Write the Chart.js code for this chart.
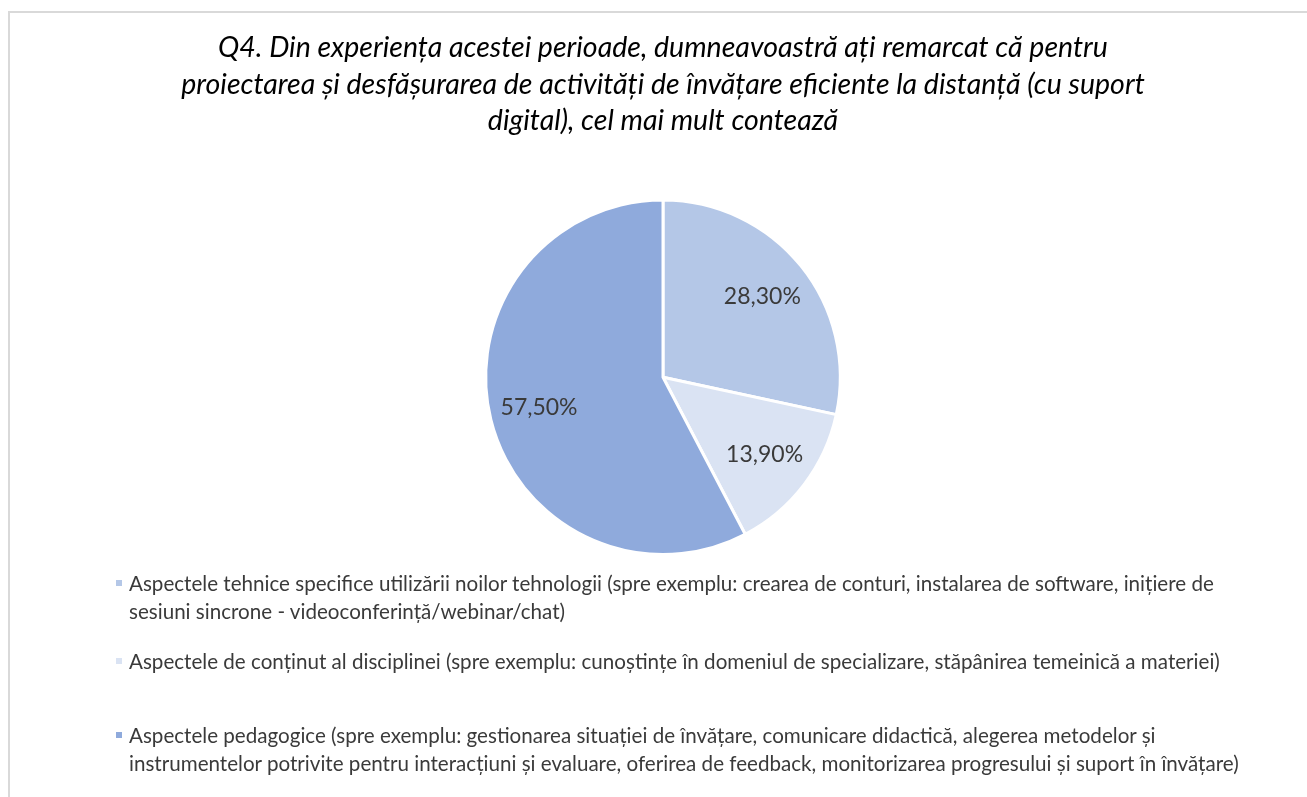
<!DOCTYPE html>
<html>
<head>
<meta charset="utf-8">
<script src="https://cdn.jsdelivr.net/npm/chart.js@4/dist/chart.umd.min.js"></script>
<style>
    html, body { margin: 0; padding: 0; background: #fff; }
    #wrap { position: relative; width: 1307px; height: 797px; overflow: hidden; }
    #frame { position: absolute; left: 8px; top: 11px; width: 1310px; height: 800px;
             border-left: 2px solid #d9d9d9; border-top: 2px solid #d9d9d9; }
    canvas { position: absolute; left: 0; top: 0; }
    #legend { position: absolute; left: 0; top: 0; width: 1307px; height: 797px; pointer-events: none; }
    .item { position: absolute; left: 129px; font-family: Lato, "Open Sans", sans-serif;
            font-size: 20.6px; line-height: 28px; color: #3a3a3a; white-space: nowrap; }
    .item .box { position: absolute; left: -13px; top: 11px; width: 6px; height: 6px; }
</style>
</head>
<body>
<div id="wrap">
    <div id="frame"></div>
    <canvas id="pie-chart" width="1307" height="797"></canvas>
    <div id="legend"></div>
</div>
<script>
// --- Data ---
const titleLines = [
    'Q4. Din experiența acestei perioade, dumneavoastră ați remarcat că pentru',
    'proiectarea și desfășurarea de activități de învățare eficiente la distanță (cu suport',
    'digital), cel mai mult contează'
];
const categories = [
    'Aspectele tehnice specifice utilizării noilor tehnologii (spre exemplu: crearea de conturi, instalarea de software, inițiere de sesiuni sincrone - videoconferință/webinar/chat)',
    'Aspectele de conținut al disciplinei (spre exemplu: cunoștințe în domeniul de specializare, stăpânirea temeinică a materiei)',
    'Aspectele pedagogice (spre exemplu: gestionarea situației de învățare, comunicare didactică, alegerea metodelor și instrumentelor potrivite pentru interacțiuni și evaluare, oferirea de feedback, monitorizarea progresului și suport în învățare)'
];
// legend line breaks as they appear in the original
const legendLines = [
    ['Aspectele tehnice specifice utilizării noilor tehnologii (spre exemplu: crearea de conturi, instalarea de software, inițiere de',
     'sesiuni sincrone - videoconferință/webinar/chat)'],
    ['Aspectele de conținut al disciplinei (spre exemplu: cunoștințe în domeniul de specializare, stăpânirea temeinică a materiei)'],
    ['Aspectele pedagogice (spre exemplu: gestionarea situației de învățare, comunicare didactică, alegerea metodelor și',
     'instrumentelor potrivite pentru interacțiuni și evaluare, oferirea de feedback, monitorizarea progresului și suport în învățare)']
];
const values = [28.3, 13.9, 57.5];
const valueLabels = ['28,30%', '13,90%', '57,50%'];
const colors = ['#b4c7e7', '#dae3f3', '#8faadc'];

// draws the percentage inside each slice
const sliceLabels = {
    id: 'sliceLabels',
    afterDatasetsDraw(chart) {
        const ctx = chart.ctx;
        const meta = chart.getDatasetMeta(0);
        ctx.save();
        ctx.font = '23px Lato, "Open Sans", sans-serif';
        ctx.fillStyle = '#3a3a3a';
        ctx.textAlign = 'center';
        ctx.textBaseline = 'middle';
        meta.data.forEach((arc, i) => {
            const p = arc.getProps(['x', 'y', 'startAngle', 'endAngle', 'outerRadius'], true);
            const mid = (p.startAngle + p.endAngle) / 2;
            const r = p.outerRadius * 0.72;
            ctx.fillText(valueLabels[i], p.x + Math.cos(mid) * r, p.y + Math.sin(mid) * r);
        });
        ctx.restore();
    }
};

const ctx = document.getElementById('pie-chart').getContext('2d');
new Chart(ctx, {
    type: 'pie',
    data: {
        labels: categories,
        datasets: [{
            data: values,
            backgroundColor: colors,
            borderColor: '#ffffff',
            borderWidth: 3
        }]
    },
    options: {
        responsive: false,
        animation: false,
        layout: { padding: { left: 19, right: 0, top: 0, bottom: 241 } },
        plugins: {
            legend: { display: false },
            tooltip: { enabled: false },
            title: {
                display: true,
                text: titleLines,
                color: '#000000',
                font: { family: 'Lato, "Open Sans", sans-serif', size: 28.5, style: 'italic', weight: 'normal', lineHeight: 1.28 },
                padding: { top: 30, bottom: 59 }
            }
        }
    },
    plugins: [sliceLabels]
});

// HTML legend
const legendTops = [569, 647, 721];
const legendEl = document.getElementById('legend');
legendLines.forEach((lines, i) => {
    const div = document.createElement('div');
    div.className = 'item';
    div.style.top = legendTops[i] + 'px';
    div.innerHTML = '<span class="box" style="background:' + colors[i] + '"></span>' + lines.join('<br>');
    legendEl.appendChild(div);
});
</script>
</body>
</html>
